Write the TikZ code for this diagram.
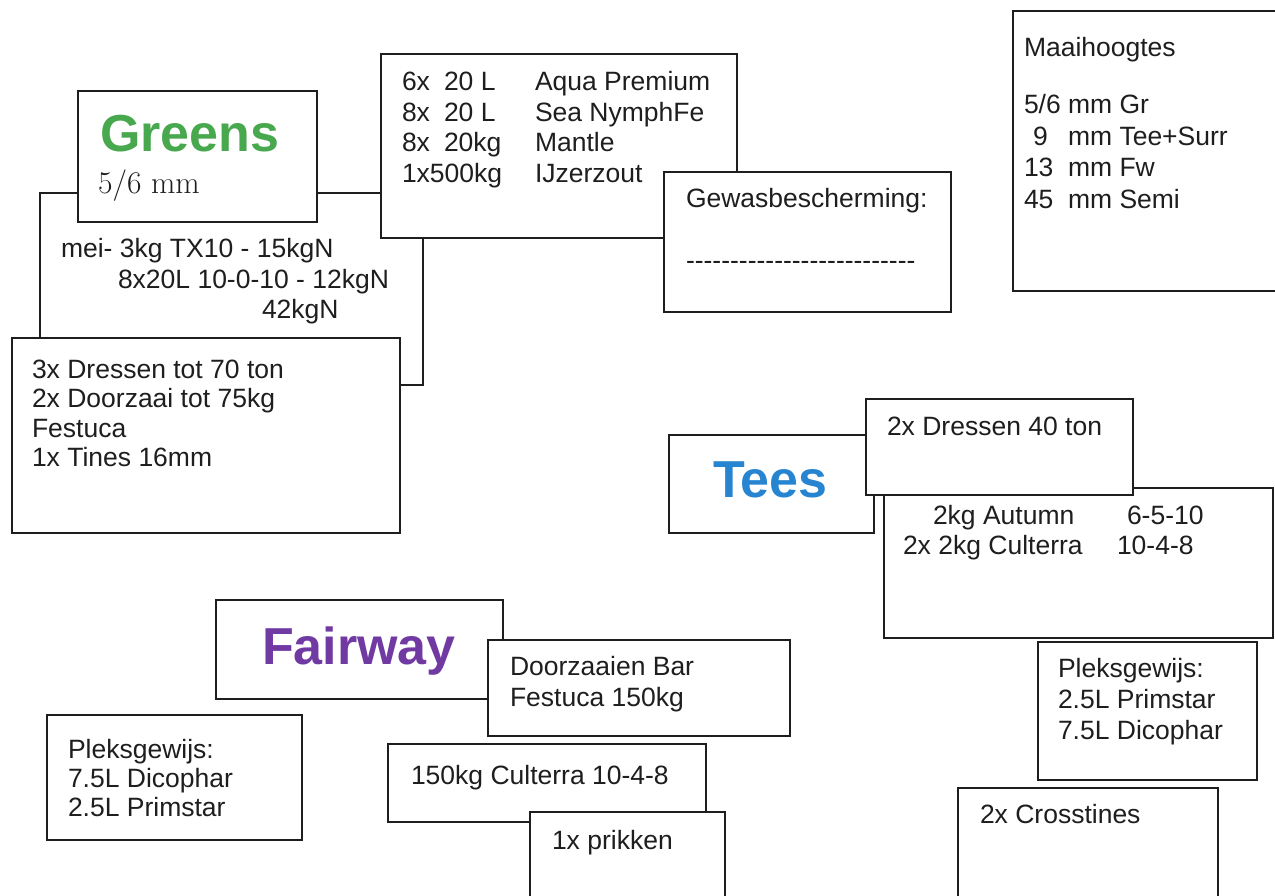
\documentclass[tikz,border=0pt]{standalone}
\usepackage{fontspec}
\setsansfont{Liberation Sans}
\definecolor{grn}{RGB}{72,168,78}
\definecolor{tblue}{RGB}{38,132,208}
\definecolor{fpurple}{RGB}{112,58,162}
\definecolor{ink}{RGB}{30,30,30}
\newcommand{\gewdash}{\mbox{-}}
\begin{document}
\begin{tikzpicture}[x=1pt,y=-1pt,
  box/.style={draw=ink,line width=1.3pt,fill=white,inner sep=0pt,outer sep=0pt,anchor=north west},
  txt/.style={font=\sffamily\fontsize{26.5}{30.5}\selectfont,anchor=base west,inner sep=0pt,outer sep=0pt,text=ink},
  title/.style={font=\sffamily\bfseries\fontsize{52}{56}\selectfont,anchor=base west,inner sep=0pt,outer sep=0pt},
  conn/.style={draw=ink,line width=1.3pt}]
\useasboundingbox[fill=white] (0,0) rectangle (1275,896);
\clip (0,0) rectangle (1275,896);

% boxes
\node[box,minimum width=239pt,minimum height=131pt] (greens) at (78,91) {};
\node[box,minimum width=356pt,minimum height=184pt] (fert) at (381,54) {};
\node[box,minimum width=287pt,minimum height=140pt] (gewas) at (664,172) {};
\node[box,minimum width=388pt,minimum height=195pt] (dressen) at (12,338) {};
\node[box,minimum width=290pt,minimum height=280pt] (maai) at (1013,11) {};
\node[box,minimum width=205pt,minimum height=98pt] (tees) at (669,435) {};
\node[box,minimum width=389pt,minimum height=150pt] (teesfert) at (884,488) {};
\node[box,minimum width=267pt,minimum height=96pt] (dressenT) at (866,399) {};
\node[box,minimum width=219pt,minimum height=138pt] (pleksT) at (1038,642) {};
\node[box,minimum width=260pt,minimum height=130pt] (cross) at (958,788) {};
\node[box,minimum width=287pt,minimum height=99pt] (fairway) at (216,600) {};
\node[box,minimum width=302pt,minimum height=96pt] (doorz) at (488,640) {};
\node[box,minimum width=255pt,minimum height=125pt] (pleksF) at (47,715) {};
\node[box,minimum width=318pt,minimum height=78pt] (cult) at (388,744) {};
\node[box,minimum width=195pt,minimum height=110pt] (prik) at (530,812) {};

% connectors
\draw[conn] (greens.west |- 0,193) -| (dressen.north -| 40,0);
\draw[conn] (greens.east |- 0,193) -- (fert.west |- 0,193);
\draw[conn] (fert.south -| 423,0) |- (dressen.east |- 0,385);

% Greens
\node[title,text=grn] (gT) at (100,152) {Greens};
\node[anchor=base west,inner sep=0pt,font=\fontsize{31.5}{33}\selectfont,text=ink] (gmm) at (98,194) {5/6 mm};
\node[txt] (m1) at (61,258) {mei- 3kg TX10 - 15kgN};
\node[txt] (m2) at (118,288) {8x20L 10-0-10 - 12kgN};
\node[txt] (m3) at (262,318) {42kgN};

% fertiliser greens
\node[txt] (f1a) at (402,91) {6x};
\node[txt] (f1b) at (444,91) {20 L};
\node[txt] (f1c) at (535,91) {Aqua Premium};
\node[txt] (f2a) at (402,121.5) {8x};
\node[txt] (f2b) at (444,121.5) {20 L};
\node[txt] (f2c) at (535,121.5) {Sea NymphFe};
\node[txt] (f3a) at (402,152) {8x};
\node[txt] (f3b) at (444,152) {20kg};
\node[txt] (f3c) at (535,152) {Mantle};
\node[txt] (f4a) at (402,182.5) {1x500kg};
\node[txt] (f4c) at (535,182.5) {IJzerzout};

% gewasbescherming
\node[txt] (g1) at (686,208) {Gewasbescherming:};
\node[txt] (g2) at (686,270) {\gewdash\gewdash\gewdash\gewdash\gewdash\gewdash\gewdash\gewdash\gewdash\gewdash\gewdash\gewdash\gewdash\gewdash\gewdash\gewdash\gewdash\gewdash\gewdash\gewdash\gewdash\gewdash\gewdash\gewdash\gewdash\gewdash};

% dressen greens
\node[txt] (d1) at (32,378) {3x Dressen tot 70 ton};
\node[txt] (d2) at (32,407.5) {2x Doorzaai tot 75kg};
\node[txt] (d3) at (32,437) {Festuca};
\node[txt] (d4) at (32,466.5) {1x Tines 16mm};

% maaihoogtes
\node[txt] (h0) at (1024,57) {Maaihoogtes};
\node[txt] (h1a) at (1024,114) {5/6};
\node[txt] (h1b) at (1068,114) {mm Gr};
\node[txt] (h2a) at (1033,145.5) {9};
\node[txt] (h2b) at (1068,145.5) {mm Tee+Surr};
\node[txt] (h3a) at (1024,177) {13};
\node[txt] (h3b) at (1068,177) {mm Fw};
\node[txt] (h4a) at (1024,208.5) {45};
\node[txt] (h4b) at (1068,208.5) {mm Semi};

% Tees
\node[title,text=tblue] (tT) at (713,497) {Tees};
\node[txt] (t1) at (887,435) {2x Dressen 40 ton};
\node[txt] (t2a) at (933,524) {2kg Autumn};
\node[txt] (t2b) at (1127,524) {6-5-10};
\node[txt] (t3a) at (903,554) {2x 2kg Culterra};
\node[txt] (t3b) at (1117,554) {10-4-8};
\node[txt] (p1) at (1058,677) {Pleksgewijs:};
\node[txt] (p2) at (1058,708) {2.5L Primstar};
\node[txt] (p3) at (1058,739) {7.5L Dicophar};
\node[txt] (c1) at (980,823) {2x Crosstines};

% Fairway
\node[title,text=fpurple] (fT) at (262,664) {Fairway};
\node[txt] (z1) at (510,675) {Doorzaaien Bar};
\node[txt] (z2) at (510,706) {Festuca 150kg};
\node[txt] (q1) at (68,758) {Pleksgewijs:};
\node[txt] (q2) at (68,787) {7.5L Dicophar};
\node[txt] (q3) at (68,816) {2.5L Primstar};
\node[txt] (u1) at (411,784) {150kg Culterra 10-4-8};
\node[txt] (k1) at (552,849) {1x prikken};
\end{tikzpicture}
\end{document}
